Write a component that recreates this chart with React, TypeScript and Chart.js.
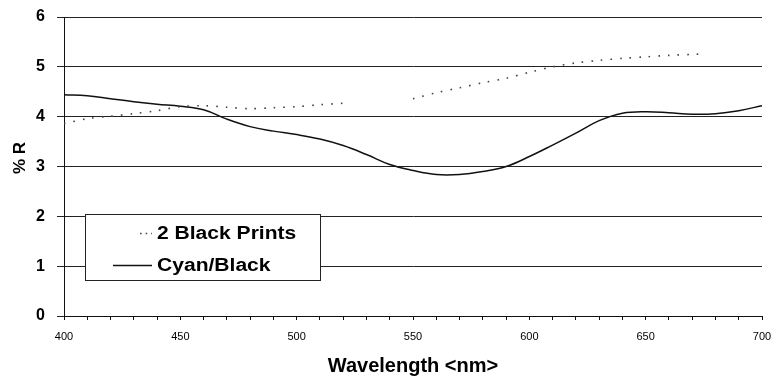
import React, { useEffect, useRef } from 'react';
import { Chart, registerables } from 'chart.js';

Chart.register(...registerables);

// ---- data ----
const wavelengths = [
  400, 410, 420, 430, 440, 450, 460, 470, 480, 490, 500, 510, 520, 530, 540, 550,
  560, 570, 580, 590, 600, 610, 620, 630, 640, 650, 660, 670, 680, 690, 700,
];
const cyanBlack = [
  4.44, 4.42, 4.36, 4.3, 4.25, 4.21, 4.14, 3.95, 3.8, 3.71, 3.64, 3.55, 3.42, 3.24, 3.04, 2.92,
  2.84, 2.84, 2.9, 3.0, 3.2, 3.43, 3.67, 3.92, 4.07, 4.1, 4.08, 4.05, 4.06, 4.12, 4.22,
];
const blackPrintsWavelengths = [
  400, 410, 420, 430, 440, 450, 460, 470, 480, 490, 500, 510, 520, 535, 550,
  560, 570, 580, 590, 600, 610, 620, 630, 640, 650, 660, 670, 675,
];
const blackPrints = [
  3.86, 3.96, 4.01, 4.06, 4.12, 4.2, 4.22, 4.19, 4.16, 4.18, 4.2, 4.24, 4.27, null, 4.36,
  4.48, 4.58, 4.68, 4.77, 4.89, 5.0, 5.08, 5.13, 5.17, 5.2, 5.23, 5.25, 5.26,
];
const seriesLabels = ['2 Black Prints', 'Cyan/Black'];
const xTickLabels = [400, 450, 500, 550, 600, 650, 700];
const yTicks = [0, 1, 2, 3, 4, 5, 6];
const yTitle = '% R';
const xTitle = 'Wavelength <nm>';

const FONT = '"Liberation Sans", Arial, Helvetica, sans-serif';

const boxLegend = {
  id: 'boxLegend',
  afterDatasetsDraw(chart: any) {
    const ctx = chart.ctx as CanvasRenderingContext2D;
    const dsets = chart.data.datasets;
    const bx = 85.5, by = 214.5, bw = 235, bh = 66;
    ctx.save();
    ctx.fillStyle = '#ffffff';
    ctx.fillRect(bx, by, bw, bh);
    ctx.strokeStyle = '#222';
    ctx.lineWidth = 1;
    ctx.setLineDash([]);
    ctx.strokeRect(bx, by, bw, bh);
    const rowsY = [233, 265];
    const sampleStart = [140, 113];
    dsets.forEach((ds: any, i: number) => {
      const y = rowsY[i];
      ctx.save();
      ctx.strokeStyle = ds.borderColor;
      ctx.lineWidth = ds.borderWidth;
      ctx.setLineDash(ds.borderDash ? [1.6, 4] : []);
      ctx.beginPath();
      ctx.moveTo(sampleStart[i], y + 0.5);
      ctx.lineTo(152, y + 0.5);
      ctx.stroke();
      ctx.restore();
      ctx.save();
      ctx.fillStyle = '#000';
      ctx.font = `bold 18px ${FONT}`;
      ctx.textAlign = 'left';
      ctx.textBaseline = 'middle';
      ctx.translate(157, y + 1);
      ctx.scale(1.17, 1);
      ctx.fillText(ds.label, 0, 0);
      ctx.restore();
    });
    // y axis title
    ctx.save();
    ctx.fillStyle = '#000';
    ctx.font = `bold 17px ${FONT}`;
    ctx.textAlign = 'center';
    ctx.textBaseline = 'middle';
    ctx.translate(20, 158);
    ctx.rotate(-Math.PI / 2);
    ctx.fillText(yTitle, 0, 0);
    ctx.restore();
    ctx.restore();
  },
};

export default function App() {
  const ref = useRef<HTMLCanvasElement | null>(null);

  useEffect(() => {
    document.body.style.margin = '0';
    if (!ref.current) return;
    const chart = new Chart(ref.current, {
      type: 'line',
      data: {
        datasets: [
          {
            label: seriesLabels[0],
            data: blackPrintsWavelengths.map((x, i) => ({ x, y: blackPrints[i] })),
            borderColor: '#444',
            borderWidth: 1.6,
            borderDash: [1.6, 8],
            pointRadius: 0,
            tension: 0.3,
            spanGaps: false,
          },
          {
            label: seriesLabels[1],
            data: wavelengths.map((x, i) => ({ x, y: cyanBlack[i] })),
            borderColor: '#111',
            borderWidth: 1.5,
            pointRadius: 0,
            tension: 0.4,
          },
        ],
      },
      options: {
        responsive: false,
        animation: false,
        events: [],
        layout: { padding: { top: 17, right: 11, bottom: 0, left: 0 } },
        plugins: {
          legend: { display: false },
          tooltip: { enabled: false },
        },
        scales: {
          x: {
            type: 'linear',
            min: 400,
            max: 700,
            afterFit: (s: any) => {
              s.height = 60;
              s.paddingLeft = 0;
              s.paddingRight = 0;
            },
            border: { display: true, color: '#111', width: 1 },
            grid: {
              display: true,
              drawOnChartArea: false,
              drawTicks: true,
              tickLength: 4,
              color: '#111',
            },
            ticks: {
              stepSize: 10,
              autoSkip: false,
              maxRotation: 0,
              padding: 10,
              color: '#000',
              font: { family: FONT, size: 11 },
              callback: (v: any) => (xTickLabels.includes(Number(v)) ? String(v) : ''),
            },
            title: {
              display: true,
              text: xTitle,
              color: '#000',
              font: { family: FONT, size: 20, weight: 'bold', lineHeight: 1 },
              padding: { top: 0, bottom: 0 },
            },
          },
          y: {
            min: 0,
            max: 6,
            afterFit: (s: any) => {
              s.width = 64;
              s.paddingTop = 0;
              s.paddingBottom = 0;
            },
            afterBuildTicks: (s: any) => {
              s.ticks = yTicks.map((v) => ({ value: v }));
            },
            border: { display: true, color: '#111', width: 1 },
            grid: {
              color: '#222',
              lineWidth: 1,
              drawTicks: true,
              tickLength: 7,
            },
            ticks: {
              padding: 12,
              color: '#000',
              font: { family: FONT, size: 16, weight: 'bold' },
            },
            title: { display: false },
          },
        },
      },
      plugins: [boxLegend],
    } as any);
    return () => chart.destroy();
  }, []);

  return (
    <div style={{ width: 773, height: 376, background: '#fff' }}>
      <canvas ref={ref} width={773} height={376} style={{ display: 'block' }} />
    </div>
  );
}
